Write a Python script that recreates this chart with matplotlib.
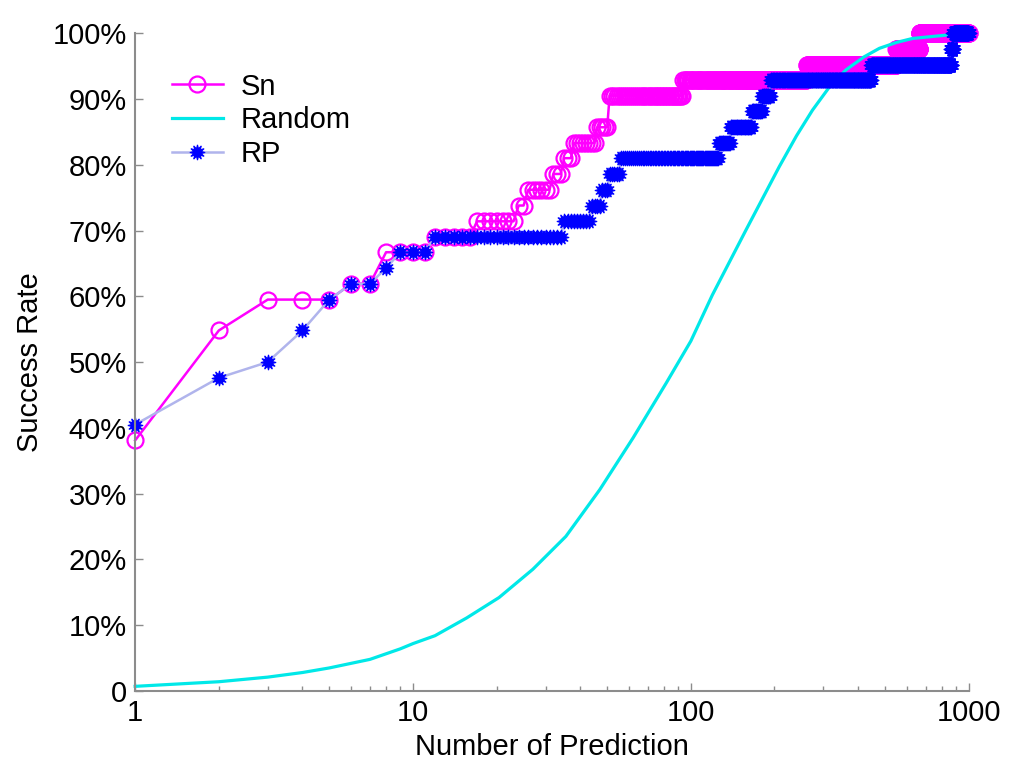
import numpy as np
import matplotlib
matplotlib.use('Agg')
import matplotlib.pyplot as plt

plt.rcParams['font.family'] = ['Liberation Sans', 'DejaVu Sans']

# step data: first prediction count of each level, and the success rate (%) from there on
n_max = 1000
sn_start = [1, 2, 3, 6, 8, 12, 17, 24, 26, 32, 35, 38, 46, 51, 94, 261, 549, 666]
sn_rate = [38.1, 54.8, 59.5, 61.9, 66.7, 69.0, 71.4, 73.8, 76.2, 78.6, 81.0, 83.3,
           85.7, 90.5, 92.9, 95.2, 97.6, 100.0]

rp_start = [1, 2, 3, 4, 5, 6, 8, 9, 12, 35, 44, 48, 51, 56, 126, 139, 166, 181,
            194, 446, 866, 881]
rp_rate = [40.5, 47.6, 50.0, 54.8, 59.5, 61.9, 64.3, 66.7, 69.0, 71.4, 73.8, 76.2,
           78.6, 81.0, 83.3, 85.7, 88.1, 90.5, 92.9, 95.2, 97.6, 100.0]

# random baseline
rand_n = [1, 2, 3, 4, 5, 7, 9, 10, 12, 15.6, 20.4, 27, 35.5, 47, 62, 81.5, 100,
          119.5, 158, 208, 240, 274, 315, 361, 420, 477, 550, 628, 826, 1000]
rand_rate = [0.7, 1.4, 2.1, 2.8, 3.5, 4.8, 6.4, 7.2, 8.4, 11.1, 14.2, 18.5, 23.5,
             30.6, 38.5, 46.8, 53.2, 60.2, 70.1, 79.7, 84.4, 88.3, 91.8, 94.4,
             96.4, 97.7, 98.6, 99.2, 99.7, 100.0]


def expand(starts, rates):
    n = np.arange(1, n_max + 1)
    idx = np.searchsorted(starts, n, side='right') - 1
    return n, np.array(rates)[idx] / 100.0


n_sn, y_sn = expand(sn_start, sn_rate)
n_rp, y_rp = expand(rp_start, rp_rate)

fig = plt.figure(figsize=(10.24, 7.72), dpi=100)
ax = fig.add_axes([0.132, 0.105, 0.814, 0.852])

ax.plot(n_sn, y_sn, color='#ff00ff', lw=1.8, marker='o', ms=11.5,
        mfc='none', mec='#ff00ff', mew=1.6, label='Sn', clip_on=False)
ax.plot(rand_n, np.array(rand_rate) / 100.0, color='#00e8e8', lw=2.3,
        label='Random', clip_on=False)
ax.plot(n_rp, y_rp, color='#b0b4ec', lw=1.8, marker=(12, 1, 0), ms=11,
        mfc='#0000ff', mec='#0000ff', mew=0.8, label='RP', clip_on=False)

ax.set_xscale('log')
ax.set_xlim(1, 1000)
ax.set_ylim(0, 1)
ax.set_xticks([1, 10, 100, 1000])
ax.set_xticklabels(['1', '10', '100', '1000'])
yt = np.arange(0, 1.01, 0.1)
ax.set_yticks(yt)
ax.set_yticklabels(['0'] + ['%d%%' % round(v * 100) for v in yt[1:]])

for s in ['top', 'right']:
    ax.spines[s].set_visible(False)
for s in ['left', 'bottom']:
    ax.spines[s].set_color('#8c8c8c')
    ax.spines[s].set_linewidth(1.5)

ax.tick_params(which='both', direction='in', colors='#8c8c8c', labelcolor='black',
               labelsize=21, pad=6)
ax.tick_params(which='major', length=6, width=1)
ax.tick_params(which='minor', length=3.5, width=1)

ax.set_xlabel('Number of Prediction', fontsize=21, labelpad=4)
ax.set_ylabel('Success Rate', fontsize=21, labelpad=6)

ax.legend(loc='upper left', bbox_to_anchor=(0.044, 0.94), frameon=False,
          fontsize=21, handlelength=1.75, handletextpad=0.6, labelspacing=0.2,
          borderpad=0, borderaxespad=0)

fig.savefig('out.png', dpi=100)
